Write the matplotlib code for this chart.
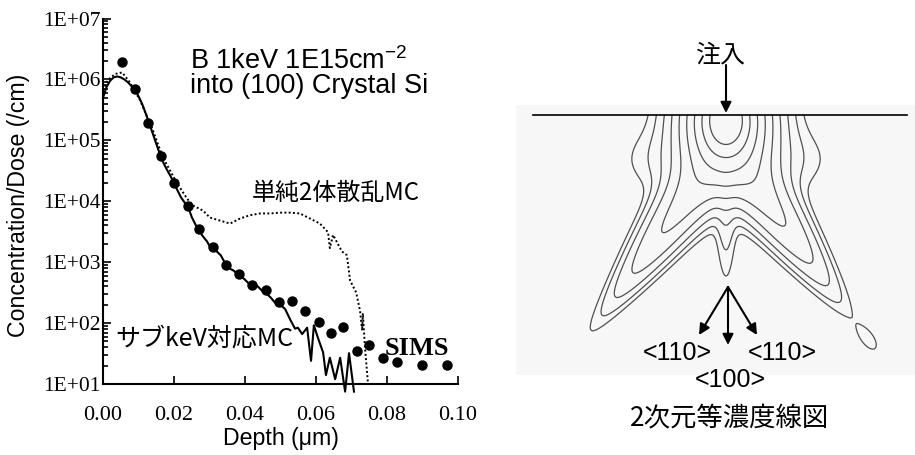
import numpy as np
import matplotlib.pyplot as plt
from matplotlib.ticker import FixedLocator, NullFormatter, FuncFormatter

plt.rcParams['mathtext.fontset'] = 'custom'
plt.rcParams['mathtext.rm'] = 'Liberation Sans'
plt.rcParams['mathtext.it'] = 'Liberation Sans:italic'

SANS = ['Liberation Sans', 'DejaVu Sans']
SERIF = ['Liberation Serif', 'DejaVu Serif']
JP = ['Noto Sans CJK JP', 'DejaVu Sans']

# --- depth profiles (depth in um, concentration/dose in /cm)
sims_depth = [0.0054, 0.009, 0.0127, 0.0163, 0.020, 0.024, 0.027, 0.031, 0.0347,
              0.0383, 0.042, 0.0459, 0.0496, 0.0533, 0.0569, 0.0608, 0.0642,
              0.0676, 0.0715, 0.075, 0.079, 0.0827, 0.090, 0.097]
sims_conc = [1.9e6, 7e5, 1.9e5, 5.5e4, 2e4, 8.3e3, 3.5e3, 1.8e3, 910,
             630, 415, 345, 220, 228, 158, 104, 68,
             85, 35, 43, 27, 23, 20.5, 20.5]

mc_depth = [0, 0.001, 0.002, 0.003, 0.004, 0.005, 0.006, 0.007, 0.008, 0.009,
            0.010, 0.011, 0.012, 0.013, 0.014, 0.015, 0.016, 0.017, 0.018, 0.019,
            0.020, 0.021, 0.022, 0.023, 0.024, 0.025, 0.026, 0.0270, 0.0282, 0.0293,
            0.0301, 0.0310, 0.0321, 0.0332, 0.0346, 0.0358, 0.0369, 0.0383, 0.0397,
            0.0411, 0.0423, 0.0434, 0.0448, 0.0462, 0.0473, 0.0485, 0.0499, 0.0513,
            0.0527, 0.0541, 0.0549, 0.0561, 0.0575, 0.0586, 0.0594, 0.0606, 0.0620,
            0.0628, 0.0639, 0.0654, 0.0668, 0.0682, 0.0693, 0.0707]
mc_conc = [5e5, 7.5e5, 9.5e5, 1.08e6, 1.12e6, 1.08e6, 1.0e6, 9e5, 7.8e5, 6.8e5,
           5.3e5, 4e5, 2.8e5, 1.9e5, 1.3e5, 8.8e4, 6e4, 4.3e4, 3.3e4, 2.6e4,
           2e4, 1.5e4, 1.15e4, 9.5e3, 8e3, 5.5e3, 4.2e3, 3300, 2630, 2190,
           1810, 1620, 1490, 1290, 910, 780, 720, 600, 535,
           445, 380, 410, 340, 300, 260, 215, 200, 170,
           115, 81, 84, 66, 84, 24, 92, 56, 33,
           14, 27, 12, 27, 7.5, 32, 7.5]

bca_depth = [0.0, 0.0014, 0.0034, 0.0054, 0.0076, 0.0104, 0.0138, 0.0169, 0.0208,
             0.0237, 0.0254, 0.0282, 0.0301, 0.0330, 0.0358, 0.0386, 0.0414, 0.0442,
             0.0470, 0.0499, 0.0527, 0.0555, 0.0583, 0.0611, 0.0634, 0.0639, 0.0648,
             0.0673, 0.0687, 0.0696, 0.0713, 0.0724, 0.0730, 0.0732, 0.0738, 0.0746]
bca_conc = [6.6e5, 9.8e5, 1.23e6, 1.3e6, 8.9e5, 4.6e5, 1.6e5, 5.2e4, 2.0e4,
            1.1e4, 8.5e3, 7.0e3, 5.4e3, 4.8e3, 4.3e3, 5.2e3, 5.9e3, 6.3e3,
            6.3e3, 6.5e3, 6.5e3, 6.3e3, 5.2e3, 4.3e3, 3.1e3, 1.7e3, 2.8e3,
            1.5e3, 1.3e3, 500, 320, 160, 76, 145, 39, 11]

x_ticks = [0.00, 0.02, 0.04, 0.06, 0.08, 0.10]
y_decades = [1, 2, 3, 4, 5, 6, 7]

# --- 2D iso-concentration map (picture px units: u across, v depth below surface)
# amplitudes are natural-log values
peak_logamp, peak_scale, peak_v, peak_aspect = 1.236, 9.8, 5.0, 1.4
leg_origin_v, leg_angle = 30.0, 36.0
leg_logamp, leg_w0, leg_w_slope = -3.11, 18.0, -0.05
leg_len = {-1: 152.0, 1: 140.0}
ch100_origin_v, ch100_logamp, ch100_len, ch100_w = 60.0, -5.0, 80.8, 6.0
shoulder_logamp, shoulder_v, shoulder_su, shoulder_h = -4.8, 45.0, 49.0, 30.0
island_logamp, island_u, island_v, island_long, island_short = -6.15, 142.0, 224.0, 12.0, 6.0
iso_levels = [np.log(10) * (-2.838 + k / 3) for k in range(9)]   # 3 lines per decade

fig = plt.figure(figsize=(9.15, 4.55), dpi=100)

# ---------------- left: depth profile
ax = fig.add_axes([103 / 915, 1 - 384 / 455, 355 / 915, (384 - 18.5) / 455])
ax.plot(bca_depth, bca_conc, color='black', lw=1.4, ls=(0, (1, 1.2)))
ax.plot(mc_depth, mc_conc, color='black', lw=1.5, clip_on=False)
ax.plot(sims_depth, sims_conc, 'o', color='black', ms=6.5, clip_on=False)

ax.set_yscale('log')
ax.set_ylim(10, 1e7)
ax.set_xlim(0, 0.1)
ax.xaxis.set_major_locator(FixedLocator(x_ticks))
ax.xaxis.set_major_formatter(FuncFormatter(lambda v, p: f'{v:.2f}'))
ax.yaxis.set_major_locator(FixedLocator([10.0**d for d in y_decades]))
ax.yaxis.set_minor_locator(FixedLocator([m * 10.0**d for d in y_decades[:-1] for m in range(2, 10)]))
ax.yaxis.set_minor_formatter(NullFormatter())
ax.yaxis.set_major_formatter(FuncFormatter(lambda v, p: f'1E+{int(round(np.log10(v))):02d}'))
for s in ['top', 'right']:
    ax.spines[s].set_visible(False)
for s in ['left', 'bottom']:
    ax.spines[s].set_linewidth(1.5)
ax.tick_params(which='both', direction='in', width=1.2)
ax.tick_params(which='major', length=6)
ax.tick_params(which='minor', length=3.5)
ax.tick_params(axis='y', pad=2)
ax.tick_params(axis='x', pad=16)
for lab in ax.get_yticklabels():
    lab.set_family(SERIF)
    lab.set_fontsize(15.5)
for lab in ax.get_xticklabels():
    lab.set_family(SERIF)
    lab.set_fontsize(16)
ax.set_ylabel('Concentration/Dose (/cm)', family=SANS, fontsize=16.7)
ax.yaxis.set_label_coords(-0.206, 0.49)
ax.set_xlabel('Depth (μm)', family=SANS, fontsize=16.7, labelpad=1)

ax.text(0.0245, 10**6.30, 'B 1keV 1E15cm$^{-2}$', family=SANS, fontsize=19.5, va='center')
ax.text(0.0245, 10**5.90, 'into (100) Crystal Si', family=SANS, fontsize=19.5, va='center')
ax.text(0.042, 10**4.13, '単純2体散乱MC', family=JP, fontsize=17.3, va='center')
ax.text(0.0034, 10**1.74, 'サブkeV対応MC', family=JP, fontsize=18, va='center')
ax.text(0.0794, 10**1.575, 'SIMS', family=SERIF, fontsize=19, fontweight='bold', va='center')

# ---------------- right: contour map
rx = fig.add_axes([516 / 915, 1 - 375 / 455, 399 / 915, 270 / 455])
rx.set_xlim(-210, 189)
rx.set_ylim(260, -10)
rx.set_facecolor('#f7f7f7')
for s in rx.spines.values():
    s.set_visible(False)
rx.set_xticks([])
rx.set_yticks([])

uu = np.linspace(-210, 189, 520)
vv = np.linspace(0, 260, 340)
U, V = np.meshgrid(uu, vv)
r = np.sqrt(U**2 + ((V - peak_v) / peak_aspect)**2)
field = np.exp(peak_logamp - r / peak_scale)
th = np.radians(leg_angle)
for side in (-1, 1):
    du, dv = U, V - leg_origin_v
    t = du * side * np.sin(th) + dv * np.cos(th)
    perp = du * np.cos(th) - dv * side * np.sin(th)
    tc = np.clip(t, 0, None)
    w = leg_w0 + leg_w_slope * tc
    d2 = perp**2 + (t - tc)**2
    field += np.exp(leg_logamp - (tc / leg_len[side])**3 - d2 / (2 * w**2))
sv = V - ch100_origin_v
sc = np.clip(sv, 0, None)
field += np.exp(ch100_logamp - (sc / ch100_len)**2 - (U**2 + (sv - sc)**2) / (2 * ch100_w**2))
field += np.exp(shoulder_logamp - U**2 / (2 * shoulder_su**2) - ((V - shoulder_v) / shoulder_h)**2)
# detached blob beyond the right <110> leg
iu, iv = U - island_u, V - island_v
i_t = iu * np.sin(th) + iv * np.cos(th)
i_p = iu * np.cos(th) - iv * np.sin(th)
field += np.exp(island_logamp - i_t**2 / (2 * island_long**2) - i_p**2 / (2 * island_short**2))
rx.contour(U, V, np.log(field), levels=iso_levels, colors='#505050',
           linewidths=0.9, linestyles='solid')

rx.axhline(0, xmin=17 / 399, xmax=391 / 399, color='black', lw=1.2)
arrow = dict(arrowstyle='-|>', color='black', lw=1.5, mutation_scale=16, shrinkA=0, shrinkB=0)
rx.annotate('', xy=(0, -2), xytext=(0, -50), arrowprops=arrow, annotation_clip=False)
for end in [(-27, 220), (2, 230), (31, 220)]:
    rx.annotate('', xy=end, xytext=(2, 172), arrowprops=arrow, annotation_clip=False)
rx.text(-6, -60, '注入', family=JP, fontsize=18, ha='center', va='center')
rx.text(-49, 238, '<110>', family=SANS, fontsize=18, ha='center', va='center')
rx.text(56, 238, '<110>', family=SANS, fontsize=18, ha='center', va='center')
rx.text(4, 265, '<100>', family=SANS, fontsize=18, ha='center', va='center', clip_on=False)
rx.text(4, 303, '2次元等濃度線図', family=JP, fontsize=19, ha='center', va='center')

fig.savefig('out.png', dpi=100)
